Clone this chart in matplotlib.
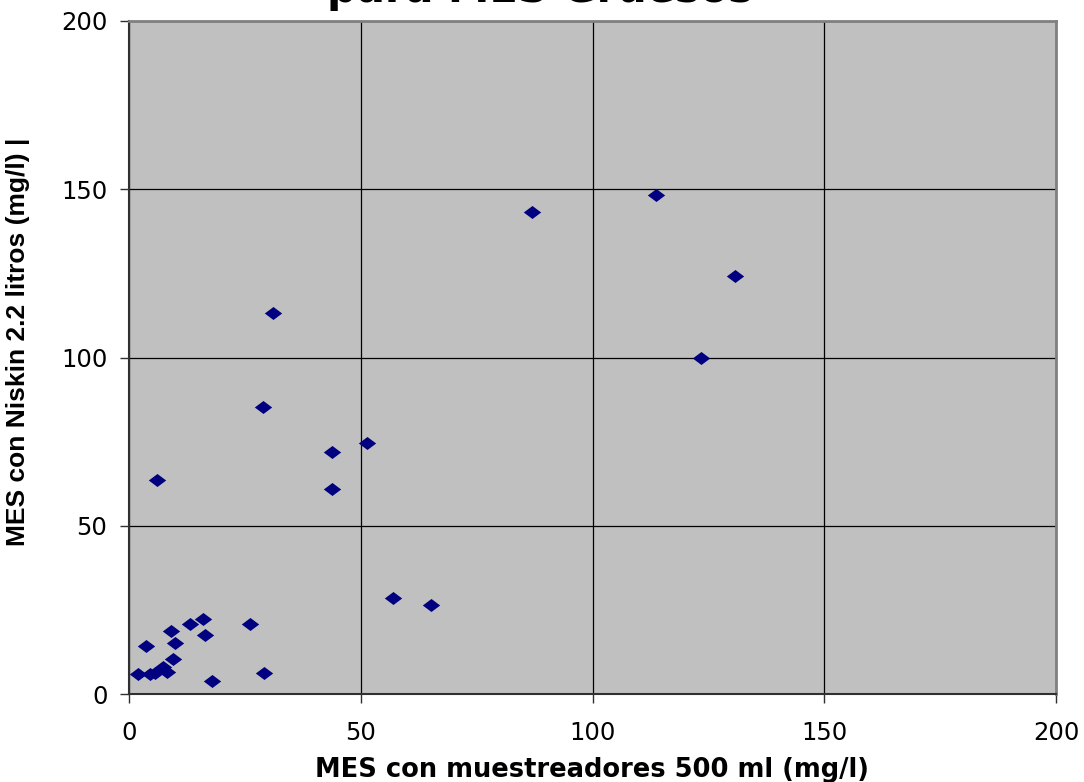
import matplotlib
matplotlib.use("Agg")
import matplotlib.pyplot as plt

# Data
x_vals = [2.0, 4.5, 5.6, 7.4, 8.1, 9.6, 3.6, 9.9, 9.1, 13.1, 16.0, 16.4, 26.2, 17.8,
          29.1, 57.0, 6.0, 31.0, 29.0, 43.9, 51.4, 43.9, 65.2, 87.0, 113.7, 130.7, 123.5]
y_vals = [5.85, 5.85, 6.15, 8.1, 6.6, 10.3, 14.3, 15.1, 18.8, 20.9, 22.4, 17.5, 20.9, 3.9,
          6.2, 28.4, 63.5, 113.3, 85.2, 72.0, 74.7, 61.0, 26.4, 143.3, 148.3, 124.3, 99.8]
ticks = [0, 50, 100, 150, 200]
title = "para MES Gruesos"
xlabel = "MES con muestreadores 500 ml (mg/l)"
ylabel = "MES con Niskin 2.2 litros (mg/l) |"

W, H = 1084, 782
fig = plt.figure(figsize=(W / 100, H / 100), dpi=100)
ax = fig.add_axes([129 / W, 1 - 694 / H, (1056 - 129) / W, (694 - 21) / H])
ax.set_facecolor("#C0C0C0")

diamond = [(-1, 0), (0, 0.75), (1, 0), (0, -0.75), (-1, 0)]
ax.scatter(x_vals, y_vals, marker=diamond, s=12.5 ** 2, color="#000080",
           linewidths=0, zorder=3)

ax.set_xlim(0, 200)
ax.set_ylim(0, 200)
ax.set_xticks(ticks)
ax.set_yticks(ticks)
ax.grid(True, color="black", linewidth=0.9)
ax.set_axisbelow(True)

for side in ["top", "right"]:
    ax.spines[side].set_color("#808080")
    ax.spines[side].set_linewidth(2)
for side in ["left", "bottom"]:
    ax.spines[side].set_color("#303030")
    ax.spines[side].set_linewidth(1.5)

ax.tick_params(direction="out", length=6.5, width=1, color="#303030",
               labelsize=17.5, pad=9)
ax.tick_params(axis="x", pad=13)
for lab in ax.get_xticklabels() + ax.get_yticklabels():
    lab.set_family("DejaVu Sans")

fig.text(592 / W, 1 - 770 / H, xlabel, ha="center", va="center",
         fontsize=18.5, fontweight="bold", family="DejaVu Sans")

fig.text(18 / W, 1 - 342 / H, ylabel, rotation=90, ha="center", va="center",
         fontsize=19, fontweight="bold",
         family=["Liberation Sans Narrow", "Liberation Sans"])

fig.text(540 / W, 1 - 2 / H, title, ha="center", va="baseline",
         fontsize=30, fontweight="bold", family="DejaVu Sans")

fig.savefig("out.png", dpi=100)
